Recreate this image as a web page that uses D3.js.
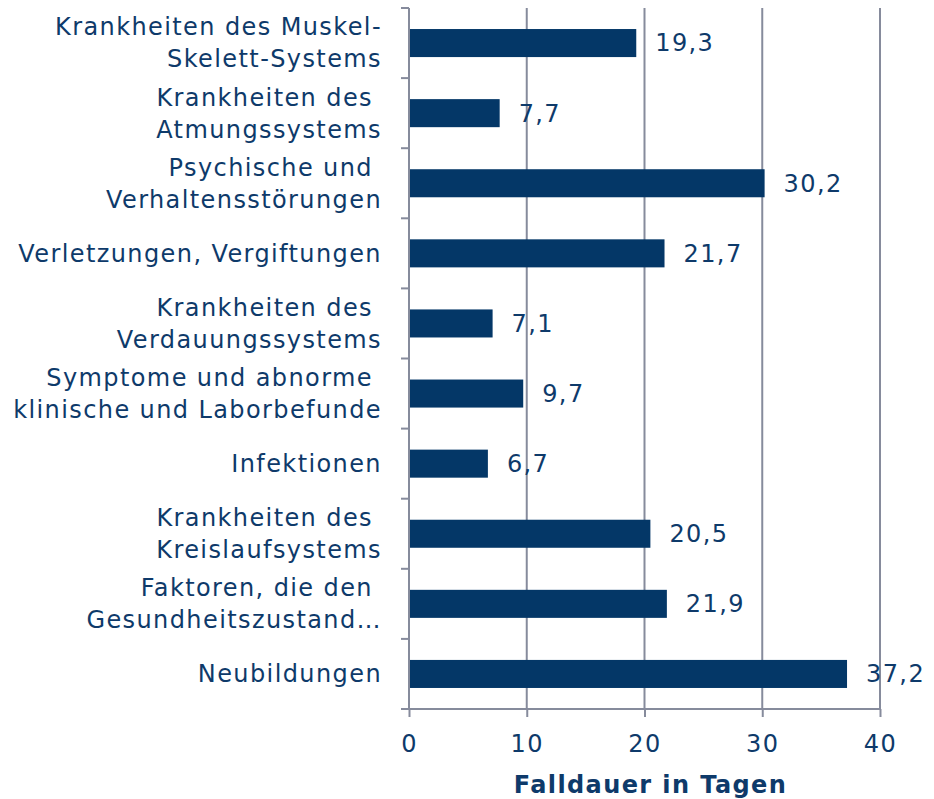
<!DOCTYPE html>
<html>
<head>
<meta charset="utf-8">
<script src="https://cdnjs.cloudflare.com/ajax/libs/d3/7.8.5/d3.min.js"></script>
<style>
  body { margin: 0; background: #fff; }
  text { font-family: "DejaVu Sans", Verdana, sans-serif; fill: #0e3a6a; letter-spacing: 1.4px; }
</style>
</head>
<body>
<div class="container"></div>
<script>
var categories = [
  ["Krankheiten des Muskel-", "Skelett-Systems"],
  ["Krankheiten des ", "Atmungssystems"],
  ["Psychische und ", "Verhaltensstörungen"],
  ["Verletzungen, Vergiftungen"],
  ["Krankheiten des ", "Verdauungssystems"],
  ["Symptome und abnorme ", "klinische und Laborbefunde"],
  ["Infektionen"],
  ["Krankheiten des ", "Kreislaufsystems"],
  ["Faktoren, die den ", "Gesundheitszustand\u2026"],
  ["Neubildungen"]
];
var values = [19.3, 7.7, 30.2, 21.7, 7.1, 9.7, 6.7, 20.5, 21.9, 37.2];
var xTicks = [0, 10, 20, 30, 40];
var axisTitle = "Falldauer in Tagen";

var margin = {top: 8, right: 54, bottom: 90, left: 409},
    width = 934 - margin.left - margin.right,
    height = 799 - margin.top - margin.bottom;

var gridColor = "#868b9c";
var barColor = "#043767";
var fontSize = "24px";

var x_scale = d3.scaleLinear().domain([0, 40]).range([0, width]);
var y_scale = d3.scaleBand()
    .domain(d3.range(categories.length))
    .range([0, height])
    .paddingInner(0.6)
    .paddingOuter(0.3);

var svg = d3.select("div.container").append("svg")
    .attr("width", 934)
    .attr("height", 799);

var g = svg.append("g")
    .attr("transform", "translate(" + margin.left + "," + margin.top + ")");

// vertical gridlines
g.selectAll("line.grid")
    .data(xTicks.slice(1))
    .enter().append("line")
    .attr("class", "grid")
    .attr("x1", function(d) { return x_scale(d); })
    .attr("x2", function(d) { return x_scale(d); })
    .attr("y1", 0)
    .attr("y2", height)
    .attr("stroke", gridColor)
    .attr("stroke-width", 2);

// bars
g.selectAll("rect.bar")
    .data(values)
    .enter().append("rect")
    .attr("class", "bar")
    .attr("x", 0)
    .attr("y", function(d, i) { return y_scale(i); })
    .attr("width", function(d) { return x_scale(d); })
    .attr("height", y_scale.bandwidth())
    .attr("fill", barColor);

// value labels
g.selectAll("text.val")
    .data(values)
    .enter().append("text")
    .attr("class", "val")
    .attr("x", function(d) { return x_scale(d) + 19; })
    .attr("y", function(d, i) { return y_scale(i) + y_scale.bandwidth() / 2; })
    .attr("dy", "0.35em")
    .style("font-size", fontSize)
    .text(function(d) { return d.toFixed(1).replace(".", ","); });

// left axis: line + separator ticks between categories
var step = y_scale.step();
var sepY = d3.range(categories.length + 1).map(function(i) { return i * step; });
g.append("line")
    .attr("x1", 0).attr("x2", 0)
    .attr("y1", 0).attr("y2", height)
    .attr("stroke", gridColor).attr("stroke-width", 2);
g.selectAll("line.sep")
    .data(sepY)
    .enter().append("line")
    .attr("class", "sep")
    .attr("x1", -8).attr("x2", 0)
    .attr("y1", function(d) { return d; })
    .attr("y2", function(d) { return d; })
    .attr("stroke", gridColor).attr("stroke-width", 2);

// category labels
var labels = g.selectAll("text.cat")
    .data(categories)
    .enter().append("text")
    .attr("class", "cat")
    .attr("text-anchor", "end")
    .style("font-size", fontSize)
    .style("white-space", "pre")
    .attr("y", function(d, i) { return y_scale(i) + y_scale.bandwidth() / 2; });

labels.each(function(lines) {
  var t = d3.select(this);
  var n = lines.length;
  lines.forEach(function(line, j) {
    t.append("tspan")
        .attr("x", -27)
        .attr("y", t.attr("y"))
        .attr("dy", ((j - (n - 1) / 2) * 32 / 24 + 0.35) + "em")
        .text(line);
  });
});

// bottom axis
var xAxis = g.append("g")
    .attr("transform", "translate(0," + height + ")")
    .call(d3.axisBottom(x_scale).tickValues(xTicks).tickSize(8).tickPadding(18));
xAxis.select(".domain").remove();
xAxis.append("line")
    .attr("x1", -8).attr("x2", width)
    .attr("y1", 0).attr("y2", 0)
    .attr("stroke", gridColor).attr("stroke-width", 2);
xAxis.selectAll(".tick line").attr("stroke", gridColor).attr("stroke-width", 2);
xAxis.selectAll(".tick text")
    .style("font-size", fontSize)
    .style("font-family", "'DejaVu Sans', Verdana, sans-serif")
    .attr("fill", "#0e3a6a");

// axis title
g.append("text")
    .attr("x", width / 2 + 6)
    .attr("y", height + 84)
    .attr("text-anchor", "middle")
    .style("font-size", fontSize)
    .style("font-weight", "bold")
    .text(axisTitle);
</script>
</body>
</html>
